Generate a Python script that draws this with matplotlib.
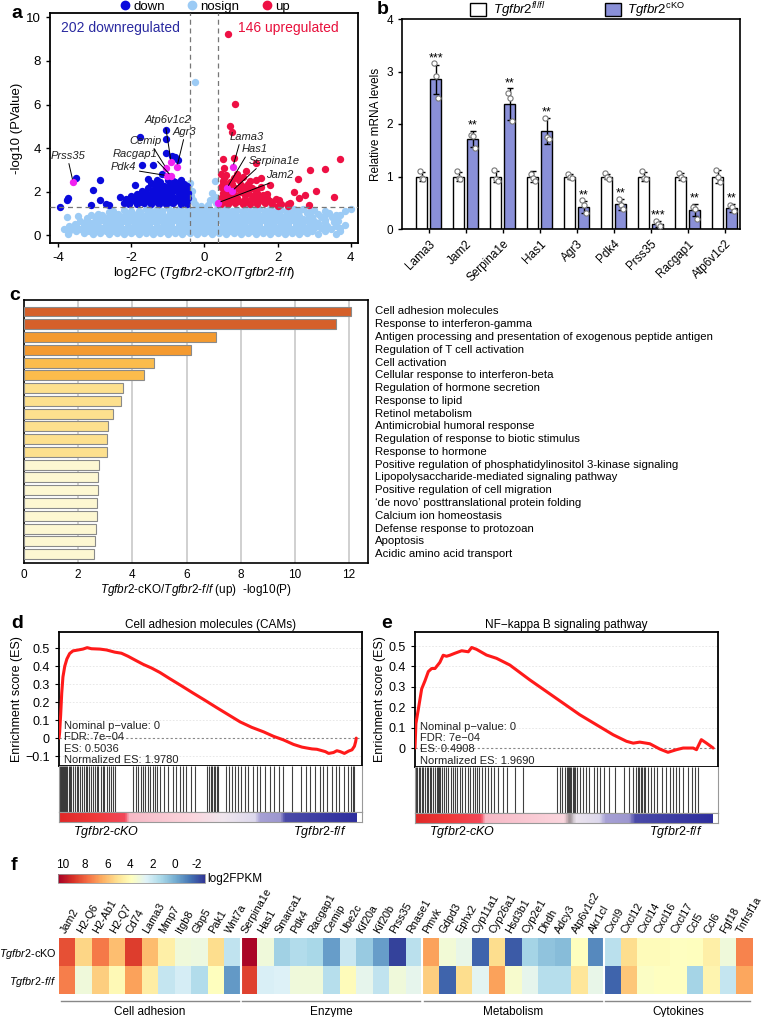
import numpy as np
import matplotlib
matplotlib.use('Agg')
import matplotlib.pyplot as plt
from matplotlib.patches import Patch
from matplotlib.lines import Line2D
from matplotlib.colors import LinearSegmentedColormap
from matplotlib.transforms import blended_transform_factory

plt.rcParams['font.family'] = ['Liberation Sans', 'DejaVu Sans']
plt.rcParams['mathtext.fontset'] = 'custom'
plt.rcParams['mathtext.rm'] = 'Liberation Sans'
plt.rcParams['mathtext.it'] = 'Liberation Sans:italic'
plt.rcParams['mathtext.bf'] = 'Liberation Sans:bold'
plt.rcParams['axes.unicode_minus'] = False

# ---------------- DATA ----------------
# Panel a: volcano (log2FC, -log10 P)
ns_pts = [
    (-3.72,0.05),(-3.7,0.18),(-3.3,0.1),(-3.05,0.06),(-2.85,0.12),(-2.6,0.04),(-2.4,0.1),(-2.2,0.06),(-2.0,0.12),
    (-1.8,0.05),(-1.6,0.1),(-1.4,0.04),(-1.2,0.12),(-1.0,0.06),(-0.8,0.1),(-0.6,0.04),(-0.4,0.12),(-0.2,0.06),
    (0.0,0.1),(0.2,0.05),(0.4,0.12),(0.6,0.06),(0.8,0.1),(1.0,0.04),(1.2,0.12),(1.4,0.06),(1.6,0.1),(1.8,0.05),
    (2.0,0.12),(2.2,0.06),(2.4,0.1),(2.6,0.04),(2.8,0.1),(3.1,0.06),(3.6,0.08),(3.72,0.2),
    (-3.5,0.2),(-3.15,0.22),(-2.95,0.18),(-2.7,0.22),(-2.5,0.18),(-2.3,0.22),(-2.1,0.18),(-1.9,0.22),(-1.7,0.18),
    (-1.5,0.22),(-1.3,0.18),(-1.1,0.22),(-0.9,0.18),(-0.7,0.22),(-0.5,0.18),(-0.3,0.22),(-0.1,0.18),(0.1,0.22),
    (0.3,0.18),(0.5,0.22),(0.7,0.18),(0.9,0.22),(1.1,0.18),(1.3,0.22),(1.5,0.18),(1.7,0.22),(1.9,0.18),(2.1,0.22),
    (2.3,0.18),(2.5,0.22),(2.7,0.18),(2.95,0.22),(3.3,0.18),
    (-3.85,0.3),(-3.6,0.35),(-3.4,0.28),(-3.2,0.33),(-3.0,0.27),(-2.8,0.34),(-2.6,0.3),(-2.4,0.36),(-2.2,0.28),
    (-2.0,0.33),(-1.8,0.3),(-1.6,0.36),(-1.4,0.28),(-1.2,0.32),(-1.0,0.35),(-0.8,0.29),(-0.6,0.34),(-0.4,0.3),
    (-0.2,0.35),(0.0,0.28),(0.2,0.33),(0.4,0.3),(0.6,0.36),(0.8,0.29),(1.0,0.33),(1.2,0.28),(1.4,0.35),(1.6,0.3),
    (1.8,0.34),(2.0,0.28),(2.2,0.33),(2.4,0.3),(2.6,0.35),(2.8,0.28),(3.0,0.32),(3.2,0.36),(3.45,0.3),(3.7,0.35),
    (-3.7,0.43),(-3.5,0.45),(-3.3,0.41),(-3.1,0.45),(-2.9,0.42),(-2.7,0.46),(-2.5,0.41),(-2.3,0.45),(-2.1,0.42),
    (-1.9,0.46),(-1.7,0.41),(-1.5,0.45),(-1.3,0.42),(-1.1,0.46),(-0.9,0.41),(-0.7,0.45),(-0.5,0.42),(-0.3,0.46),
    (-0.1,0.41),(0.1,0.45),(0.3,0.42),(0.5,0.46),(0.7,0.41),(0.9,0.45),(1.1,0.42),(1.3,0.46),(1.5,0.41),(1.7,0.45),
    (1.9,0.42),(2.1,0.46),(2.3,0.41),(2.5,0.45),(2.7,0.42),(2.9,0.46),(3.1,0.41),(3.35,0.45),(3.6,0.42),(3.85,0.46),
    (-3.55,0.52),(-3.3,0.58),(-3.1,0.55),(-2.9,0.6),(-2.7,0.52),(-2.5,0.57),(-2.3,0.55),(-2.1,0.6),(-1.9,0.53),
    (-1.7,0.57),(-1.5,0.55),(-1.3,0.6),(-1.1,0.52),(-0.9,0.58),(-0.7,0.55),(-0.5,0.6),(-0.3,0.53),(-0.1,0.57),
    (0.1,0.55),(0.3,0.6),(0.5,0.52),(0.7,0.57),(0.9,0.55),(1.1,0.6),(1.3,0.53),(1.5,0.58),(1.7,0.55),(1.9,0.6),
    (2.1,0.52),(2.3,0.57),(2.5,0.55),(2.7,0.6),(2.9,0.53),(3.1,0.57),(3.3,0.55),(3.55,0.6),
    (-3.4,0.68),(-3.2,0.7),(-3.0,0.66),(-2.8,0.7),(-2.6,0.67),(-2.4,0.71),(-2.2,0.66),(-2.0,0.7),(-1.8,0.67),
    (-1.6,0.71),(-1.4,0.66),(-1.2,0.7),(-1.0,0.67),(-0.8,0.71),(-0.6,0.66),(-0.4,0.7),(-0.2,0.67),(0.0,0.71),
    (0.2,0.66),(0.4,0.7),(0.6,0.67),(0.8,0.71),(1.0,0.66),(1.2,0.7),(1.4,0.67),(1.6,0.71),(1.8,0.66),(2.0,0.7),
    (2.2,0.67),(2.4,0.71),(2.6,0.66),(2.8,0.7),(3.0,0.67),(3.3,0.71),(3.65,0.68),
    (-3.75,0.85),(-3.45,0.9),(-3.2,0.78),(-2.95,0.82),(-2.7,0.76),(-2.5,0.84),(-2.3,0.78),(-2.1,0.82),(-1.9,0.77),
    (-1.7,0.83),(-1.5,0.79),(-1.3,0.84),(-1.1,0.77),(-0.9,0.82),(-0.7,0.78),(-0.5,0.84),(-0.3,0.79),(-0.1,0.83),
    (0.1,0.78),(0.3,0.84),(0.5,0.77),(0.7,0.82),(0.9,0.79),(1.1,0.83),(1.3,0.77),(1.5,0.84),(1.7,0.79),(1.9,0.82),
    (2.1,0.78),(2.3,0.84),(2.5,0.8),(2.7,0.76),(2.95,0.82),(3.2,0.86),(3.5,0.84),(3.85,1.1),
    (-3.1,0.92),(-2.8,0.94),(-2.6,0.9),(-2.4,0.94),(-2.2,0.91),(-2.0,0.95),(-1.8,0.9),(-1.6,0.94),(-1.4,0.91),
    (-1.2,0.95),(-1.0,0.9),(-0.8,0.94),(-0.6,0.91),(-0.4,0.95),(-0.2,0.9),(0.0,0.94),(0.2,0.91),(0.4,0.95),
    (0.6,0.9),(0.8,0.94),(1.0,0.91),(1.2,0.95),(1.4,0.9),(1.6,0.94),(1.8,0.91),(2.0,0.95),(2.2,0.9),(2.4,0.94),
    (2.6,0.91),(2.85,0.95),(3.3,0.92),(3.6,0.94),
    (-2.9,1.0),(-2.6,1.05),(-2.35,0.98),(-2.15,1.04),(-1.95,1.0),(-1.75,1.06),(-1.55,0.99),(-1.35,1.04),(-1.15,1.0),
    (-0.95,1.05),(-0.75,0.98),(-0.55,1.04),(-0.35,1.0),(-0.15,1.06),(0.05,0.99),(0.25,1.04),(0.45,1.0),(0.65,1.05),
    (0.85,0.98),(1.05,1.04),(1.25,1.0),(1.45,1.06),(1.65,0.99),(1.85,1.04),(2.05,1.0),(2.3,1.05),(2.55,0.98),
    (2.8,1.03),(3.1,1.0),(3.4,1.02),(3.7,0.95),
    (-2.5,1.12),(-2.0,1.14),(-1.8,1.1),(-1.45,1.13),(-1.15,1.11),(-0.85,1.14),(-0.6,1.1),(-0.3,1.13),(-0.05,1.11),
    (0.2,1.14),(0.5,1.1),(0.75,1.13),(1.05,1.11),(1.35,1.14),(1.65,1.1),(1.95,1.13),(2.25,1.11),(2.6,1.14),
    (2.9,1.1),(3.3,1.12),
    (-2.2,1.18),(-1.6,1.22),(-1.3,1.2),(-1.0,1.24),(-0.7,1.19),(-0.45,1.23),(-0.2,1.2),(0.1,1.25),(0.35,1.2),
    (0.6,1.22),(0.9,1.18),(1.2,1.24),(1.5,1.2),(1.8,1.22),(2.1,1.18),(2.45,1.22),(2.7,1.2),(3.0,1.18),(4.0,1.2),
    (-0.38,2.42),(-0.42,2.3),(-0.33,2.05),(-0.36,1.8),(-0.3,1.6),(-0.25,1.45),(0.3,2.5),(0.22,1.95),(0.28,1.75),
    (0.15,1.6),(0.33,1.5),(0.1,1.4),(-0.1,1.35),(-0.25,7.02),
]
down_pts = [
    (-2.05,1.45),(-1.85,1.42),(-1.65,1.47),(-1.45,1.43),(-1.25,1.46),(-1.05,1.42),(-0.85,1.47),(-0.65,1.44),(-0.48,1.45),
    (-2.1,1.55),(-1.9,1.57),(-1.7,1.54),(-1.5,1.57),(-1.3,1.55),(-1.1,1.58),(-0.9,1.54),(-0.7,1.57),(-0.5,1.55),
    (-2.15,1.65),(-1.95,1.68),(-1.75,1.63),(-1.55,1.67),(-1.35,1.64),(-1.15,1.68),(-0.95,1.63),(-0.75,1.67),(-0.55,1.65),(-0.45,1.7),
    (-2.0,1.8),(-1.8,1.82),(-1.65,1.78),(-1.45,1.81),(-1.25,1.79),(-1.05,1.82),(-0.85,1.78),(-0.65,1.81),(-0.5,1.8),
    (-1.85,1.9),(-1.6,1.93),(-1.45,1.88),(-1.3,1.92),(-1.1,1.89),(-0.9,1.94),(-0.7,1.88),(-0.55,1.92),(-0.45,1.95),
    (-1.7,2.05),(-1.4,2.07),(-1.2,2.03),(-1.0,2.06),(-0.85,2.04),(-0.7,2.07),(-0.6,2.03),(-0.47,2.05),
    (-1.55,2.15),(-1.25,2.18),(-1.05,2.13),(-0.95,2.2),(-0.8,2.14),(-0.65,2.18),(-0.5,2.15),
    (-1.35,2.3),(-1.1,2.28),(-0.9,2.32),(-0.75,2.29),(-0.6,2.31),(-0.47,2.28),
    (-1.45,2.4),(-1.2,2.43),(-0.95,2.38),(-0.8,2.45),(-0.7,2.4),(-0.55,2.35),
    (-1.0,2.52),(-0.85,2.5),(-0.65,2.53),
    (-1.05,4.85),(-1.05,4.4),(-1.75,4.5),(-1.05,3.8),(-0.88,3.62),(-0.8,3.58),(-0.72,3.45),(-1.4,3.25),(-1.7,3.25),
    (-1.15,2.8),(-1.3,2.55),(-3.5,2.62),(-2.85,2.52),(-3.05,2.08),(-1.9,2.3),(-3.73,1.7),(-3.75,1.6),(-2.85,1.6),
    (-2.7,1.45),(-2.6,1.38),(-3.1,1.38),(-3.95,1.3),(-2.3,1.78),(-2.2,1.5),(-1.55,2.6),
]
up_pts = [
    (0.45,1.45),(0.65,1.42),(0.85,1.47),(1.05,1.43),(1.25,1.46),(1.45,1.42),(1.65,1.47),(1.85,1.44),(2.1,1.45),(2.3,1.42),
    (0.55,1.58),(0.75,1.57),(0.95,1.59),(1.15,1.56),(1.4,1.59),(1.6,1.57),(1.8,1.58),
    (0.45,1.7),(0.7,1.68),(0.9,1.72),(1.1,1.67),(1.3,1.71),(1.5,1.68),(1.7,1.72),(1.95,1.68),
    (0.6,1.85),(0.85,1.84),(1.1,1.86),(1.35,1.83),(1.6,1.86),
    (0.5,1.95),(0.75,1.92),(1.0,1.97),(1.2,1.93),(1.45,1.96),(1.7,1.92),
    (0.55,2.1),(0.7,2.08),(0.95,2.11),(1.2,2.09),(1.4,2.1),
    (0.45,2.2),(0.6,2.23),(0.85,2.18),(1.05,2.22),(1.3,2.19),(1.55,2.22),
    (0.5,2.35),(0.75,2.36),(1.0,2.33),(1.2,2.36),
    (0.5,2.5),(0.7,2.47),(0.95,2.52),(1.25,2.48),(1.4,2.52),
    (0.55,2.65),(0.8,2.64),(1.05,2.66),
    (0.45,2.8),(0.6,2.78),(0.9,2.82),
    (0.65,9.25),(0.85,6.02),(0.7,5.0),(0.75,4.75),(0.5,3.5),(0.8,3.55),(1.4,3.3),(0.55,3.1),(1.15,2.95),(1.55,2.65),
    (1.8,2.3),(2.05,1.6),(2.35,1.5),(2.45,2.0),(2.55,2.6),(2.6,1.7),(2.75,1.85),(2.9,3.0),(3.3,3.05),(3.05,2.02),
    (3.55,1.75),(3.7,3.52),(2.3,1.35),(2.0,1.35),(2.85,1.4),
]
# labelled genes: name, point (log2FC, -log10P), text position
hl_genes = ['Prss35', 'Pdk4', 'Racgap1', 'Cemip', 'Atp6v1c2', 'Agr3', 'Lama3', 'Has1', 'Serpina1e', 'Jam2']
hl_fc    = [-3.59, -1.02, -0.91, -1.05, -0.91, -0.75, 0.78, 0.62, 0.76, 0.38]
hl_p     = [2.46, 2.74, 2.73, 3.10, 3.38, 3.15, 3.15, 2.18, 2.04, 1.50]
hl_tx    = [-3.72, -2.2, -1.9, -1.6, -1.0, -0.55, 1.16, 1.38, 1.92, 2.05]
hl_ty    = [3.65, 3.15, 3.75, 4.34, 5.27, 4.75, 4.52, 3.95, 3.42, 2.75]
hl_rel   = [(0.5, 0), (1, 0.1), (0.95, 0), (0.7, 0), (0.45, 0), (0.5, 0), (0.3, 0), (0.2, 0), (0.2, 0), (0.4, 0)]
fc_cut, p_cut = 0.38, 1.3

# Panel b: qPCR
b_genes = ['Lama3', 'Jam2', 'Serpina1e', 'Has1', 'Agr3', 'Pdk4', 'Prss35', 'Racgap1', 'Atp6v1c2']
wt_mean = [1.0, 1.0, 1.0, 1.0, 1.0, 1.0, 1.0, 1.0, 1.0]
wt_err  = [0.08, 0.08, 0.1, 0.1, 0.05, 0.05, 0.08, 0.06, 0.12]
ko_mean = [2.85, 1.72, 2.38, 1.86, 0.42, 0.47, 0.10, 0.36, 0.40]
ko_err  = [0.28, 0.15, 0.30, 0.25, 0.12, 0.10, 0.06, 0.12, 0.08]
wt_pts = [(1.1, 0.97, 0.95), (1.1, 0.97, 0.95), (1.13, 0.95, 0.92), (1.05, 0.98, 0.92), (1.05, 1.0, 0.97),
          (1.06, 1.0, 0.96), (1.1, 0.97, 0.96), (1.06, 1.0, 0.95), (1.12, 1.0, 0.9)]
ko_pts = [(3.16, 2.92, 2.49), (1.8, 1.77, 1.55), (2.6, 2.5, 2.05), (2.12, 1.75, 1.72), (0.55, 0.45, 0.3),
          (0.58, 0.45, 0.38), (0.15, 0.1, 0.05), (0.42, 0.38, 0.2), (0.45, 0.42, 0.35)]
stars = ['***', '**', '**', '**', '**', '**', '***', '**', '**']

# Panel c: enrichment
c_terms = ['Cell adhesion molecules', 'Response to interferon-gamma',
           'Antigen processing and presentation of exogenous peptide antigen',
           'Regulation of T cell activation', 'Cell activation', 'Cellular response to interferon-beta',
           'Regulation of hormone secretion', 'Response to lipid', 'Retinol metabolism',
           'Antimicrobial humoral response', 'Regulation of response to biotic stimulus', 'Response to hormone',
           'Positive regulation of phosphatidylinositol 3-kinase signaling',
           'Lipopolysaccharide-mediated signaling pathway', 'Positive regulation of cell migration',
           "\u2018de novo\u2019 posttranslational protein folding", 'Calcium ion homeostasis',
           'Defense response to protozoan', 'Apoptosis', 'Acidic amino acid transport']
c_vals = [12.09, 11.53, 7.10, 6.16, 4.80, 4.43, 3.65, 3.59, 3.30, 3.11, 3.07, 3.05,
          2.78, 2.74, 2.73, 2.71, 2.68, 2.67, 2.63, 2.58]
c_cols = ['#d5602a'] * 2 + ['#f49a30'] * 2 + ['#fbbc4c'] * 2 + ['#fde08e'] * 6 + ['#fdf7d2'] * 8

# Panel d: GSEA CAMs
d_x  = [0.0, 0.002, 0.0055, 0.009, 0.013, 0.019, 0.026, 0.035, 0.046, 0.063, 0.079, 0.093, 0.107, 0.135,
        0.157, 0.184, 0.206, 0.228, 0.25, 0.278, 0.305, 0.333, 0.366, 0.405, 0.443, 0.482, 0.52, 0.559,
        0.598, 0.636, 0.675, 0.708, 0.741, 0.774, 0.802, 0.818, 0.835, 0.851, 0.879, 0.89, 0.906, 0.917,
        0.928, 0.942, 0.956, 0.967, 0.975, 0.979, 0.981]
d_es = [0.0, 0.03, 0.13, 0.25, 0.34, 0.40, 0.44, 0.47, 0.485, 0.49, 0.495, 0.503, 0.497, 0.495,
        0.49, 0.478, 0.472, 0.455, 0.435, 0.41, 0.39, 0.365, 0.33, 0.29, 0.25, 0.21, 0.17, 0.13,
        0.09, 0.06, 0.035, 0.01, -0.01, -0.035, -0.05, -0.055, -0.06, -0.062, -0.075, -0.085, -0.08, -0.07,
        -0.075, -0.085, -0.072, -0.065, -0.045, -0.02, 0.0]
d_hits = [0.002, 0.006, 0.01, 0.013, 0.016, 0.02, 0.024, 0.028, 0.032, 0.036, 0.04, 0.046, 0.052, 0.058,
          0.063, 0.07, 0.075, 0.082, 0.088, 0.094, 0.1, 0.105, 0.112, 0.118, 0.125, 0.13, 0.137, 0.145,
          0.15, 0.158, 0.165, 0.172, 0.178, 0.185, 0.245, 0.255, 0.262, 0.27, 0.278, 0.285, 0.293, 0.3,
          0.31, 0.318, 0.325, 0.333, 0.345, 0.36, 0.375, 0.385, 0.4, 0.41, 0.42, 0.435, 0.45, 0.49, 0.495,
          0.5, 0.505, 0.51, 0.515, 0.52, 0.525, 0.55, 0.56, 0.57, 0.58, 0.59, 0.6, 0.615, 0.625, 0.64,
          0.655, 0.665, 0.68, 0.695, 0.71, 0.725, 0.74, 0.77, 0.8, 0.815, 0.83, 0.845, 0.86, 0.87, 0.885,
          0.9, 0.915, 0.925, 0.94, 0.955, 0.965, 0.97, 0.975]
d_stats = ['Nominal p\u2212value: 0', 'FDR: 7e\u221204', 'ES: 0.5036', 'Normalized ES: 1.9780']

# Panel e: GSEA NF-kB
e_x  = [0.0, 0.003, 0.011, 0.022, 0.033, 0.044, 0.055, 0.066, 0.082, 0.093, 0.104, 0.115, 0.132, 0.154,
        0.176, 0.187, 0.203, 0.236, 0.269, 0.313, 0.379, 0.434, 0.489, 0.544, 0.599, 0.654, 0.698, 0.72,
        0.742, 0.775, 0.808, 0.835, 0.863, 0.885, 0.918, 0.929, 0.945, 0.962, 0.984]
e_es = [0.0, 0.12, 0.19, 0.29, 0.33, 0.375, 0.39, 0.39, 0.42, 0.455, 0.45, 0.455, 0.465, 0.477,
        0.472, 0.493, 0.484, 0.456, 0.44, 0.407, 0.334, 0.277, 0.22, 0.163, 0.114, 0.065, 0.033, 0.024,
        0.029, 0.021, -0.005, -0.021, -0.008, 0.0, 0.0, -0.008, 0.041, 0.024, 0.0]
e_hits = [0.003, 0.008, 0.013, 0.018, 0.023, 0.028, 0.033, 0.038, 0.043, 0.048, 0.053, 0.058, 0.065, 0.072,
          0.076, 0.08, 0.084, 0.088, 0.095, 0.103, 0.11, 0.118, 0.125, 0.133, 0.14, 0.148, 0.155, 0.165,
          0.175, 0.183, 0.19, 0.198, 0.205, 0.212, 0.22, 0.23, 0.24, 0.25, 0.262, 0.275, 0.29, 0.305, 0.33,
          0.355, 0.47, 0.478, 0.486, 0.494, 0.5, 0.504, 0.508, 0.512, 0.516, 0.52, 0.524, 0.528, 0.536,
          0.545, 0.555, 0.565, 0.575, 0.59, 0.6, 0.612, 0.625, 0.64, 0.66, 0.69, 0.705, 0.72, 0.73, 0.735,
          0.74, 0.745, 0.75, 0.755, 0.76, 0.77, 0.78, 0.79, 0.8, 0.815, 0.83, 0.84, 0.85, 0.86, 0.87,
          0.885, 0.9, 0.915, 0.925, 0.935]
e_stats = ['Nominal p\u2212value: 0', 'FDR: 7e\u221204', 'ES: 0.4908', 'Normalized ES: 1.9690']

# Panel f: heatmap (log2FPKM)
f_genes = ['Jam2', 'H2-Q6', 'H2-Ab1', 'H2-Q7', 'Cd74', 'Lama3', 'Mmp7', 'Itgb8', 'Gbp5', 'Pak1', 'Wnt7a',
           'Serpina1e', 'Has1', 'Smarca1', 'Pdk4', 'Racgap1', 'Cemip', 'Ube2c', 'Kif20a', 'Kif20b', 'Prss35', 'Rnase1',
           'Pmvk', 'Gdpd3', 'Ephx2', 'Cyp11a1', 'Cyp26a1', 'Hsd3b1', 'Cyp2e1', 'Dhdh', 'Adcy3', 'Atp6v1c2', 'Akr1cl',
           'Cxcl9', 'Cxcl12', 'Cxcl14', 'Cxcl16', 'Cxcl17', 'Ccl5', 'Ccl6', 'Fgf18', 'Tnfrsf1a']
f_cko = [8.4, 5.4, 7.5, 6.0, 8.8, 6.1, 4.5, 3.2, 3.1, 5.2, 1.8,
         10.2, 3.2, 1.0, 1.4, 1.2, -0.4, 2.0, 0.8, -0.4, -2.4, 1.6,
         6.7, 3.3, 2.9, -1.7, 5.2, -1.9, 1.1, 0.6, 0.4, 3.9, -0.9,
         1.6, 5.2, 4.0, 4.0, 3.8, 3.9, 4.5, 3.2, 7.3]
f_ff  = [7.4, 3.2, 5.6, 4.1, 6.7, 4.6, 1.9, 2.3, 1.4, 3.9, -0.5,
         8.7, 2.4, 2.5, 3.2, 3.2, 1.5, 4.0, 2.8, 1.8, 3.2, 2.8,
         5.6, -1.7, 5.2, 2.7, 6.7, 3.5, 2.8, 1.5, 1.5, 4.9, 2.9,
         -1.7, 5.8, 3.7, 3.8, 3.8, 1.1, 4.3, 1.9, 6.6]
f_groups = ['Cell adhesion', 'Enzyme', 'Metabolism', 'Cytokines']
f_group_sizes = [11, 11, 11, 9]

# ---------------- FIGURE ----------------
W, H = 762, 1017
fig = plt.figure(figsize=(W / 100, H / 100), dpi=100)


def R(l, t, r, b):
    return [l / W, 1 - b / H, (r - l) / W, (b - t) / H]


def ptext(x, y, s):
    fig.text(x / W, 1 - y / H, s, fontsize=14, fontweight='bold', ha='center', va='center')


# ---- Panel a ----
axA = fig.add_axes(R(50, 13, 358, 243))
ns = np.array(ns_pts); dn = np.array(down_pts); up = np.array(up_pts)
ms = 28
axA.scatter(ns[:, 0], ns[:, 1], s=ms, color='#9ccbf5', linewidths=0, zorder=1)
axA.scatter(dn[:, 0], dn[:, 1], s=ms, color='#0a0adc', linewidths=0, zorder=2)
axA.scatter(up[:, 0], up[:, 1], s=ms, color='#ee1044', linewidths=0, zorder=2)
axA.scatter(hl_fc, hl_p, s=ms, color='#f022f0', linewidths=0, zorder=4)
for xv in (-fc_cut, fc_cut):
    axA.axvline(xv, ls=(0, (4, 3)), color='#777777', lw=0.9, zorder=3)
axA.axhline(p_cut, ls=(0, (4, 3)), color='#777777', lw=0.9, zorder=3)
for g, px, py, tx, ty, rp in zip(hl_genes, hl_fc, hl_p, hl_tx, hl_ty, hl_rel):
    axA.annotate(g, xy=(px, py), xytext=(tx, ty), fontsize=8, style='italic', ha='center', va='center',
                 color='#222222', zorder=5,
                 arrowprops=dict(arrowstyle='-', color='black', lw=0.7, shrinkA=0, shrinkB=2, relpos=rp))
axA.text(-2.3, 9.5, '202 downregulated', color='#2a2aa0', fontsize=10, ha='center', va='center')
axA.text(2.3, 9.5, '146 upregulated', color='#e8103c', fontsize=10, ha='center', va='center')
axA.set_xlim(-4.22, 4.2)
axA.set_ylim(-0.35, 10.2)
axA.set_xticks([-4, -2, 0, 2, 4])
axA.set_yticks([0, 2, 4, 6, 8, 10])
axA.tick_params(labelsize=9.5, length=3, width=1)
for sp in axA.spines.values():
    sp.set_linewidth(1.3)
axA.set_ylabel('-log10 (PValue)', fontsize=9.5, labelpad=2)
axA.set_xlabel(r'log2FC ($\mathit{Tgfbr2}$-cKO/$\mathit{Tgfbr2}$-$\mathit{f/f}$)', fontsize=9.5, labelpad=1)
hA = [Line2D([], [], ls='', marker='o', ms=6, color=c) for c in ('#0a0adc', '#9ccbf5', '#ee1044')]
axA.legend(hA, ['down', 'nosign', 'up'], ncol=3, loc='center', bbox_to_anchor=(0.5, 1 + (13 - 7) / 230),
           frameon=False, fontsize=9.5, handletextpad=0.1, columnspacing=1.6, borderpad=0, handlelength=1.0)
ptext(17, 13, 'a')

# ---- Panel b ----
axB = fig.add_axes(R(402, 19, 740, 229))
xb = np.arange(len(b_genes))
bw, off = 0.29, 0.19
axB.bar(xb - off, wt_mean, bw, color='white', edgecolor='black', lw=1.0, zorder=2)
axB.bar(xb + off, ko_mean, bw, color='#8a90d8', edgecolor='black', lw=1.0, zorder=2)
axB.errorbar(xb - off, wt_mean, yerr=wt_err, fmt='none', ecolor='black', elinewidth=1, capsize=2.5, zorder=3)
axB.errorbar(xb + off, ko_mean, yerr=ko_err, fmt='none', ecolor='black', elinewidth=1, capsize=2.5, zorder=3)
jit = [-0.05, 0.0, 0.05]
for i in range(len(b_genes)):
    axB.scatter(xb[i] - off + np.array(jit), wt_pts[i], s=14, facecolor='white', edgecolor='#777777',
                linewidths=0.8, zorder=4)
    axB.scatter(xb[i] + off + np.array(jit), ko_pts[i], s=14, facecolor='white', edgecolor='#777777',
                linewidths=0.8, zorder=4)
    top = max(ko_mean[i] + ko_err[i], max(ko_pts[i]))
    axB.text(xb[i] + off, top - 0.02, stars[i], ha='center', va='bottom', fontsize=9)
axB.set_xlim(-0.72, 8.41)
axB.set_ylim(0, 4)
axB.set_yticks([0, 1, 2, 3, 4])
axB.set_xticks(xb)
axB.set_xticklabels(b_genes, rotation=45, ha='right', rotation_mode='anchor', fontsize=8.5)
axB.tick_params(labelsize=8.5, length=3, width=1)
for sp in axB.spines.values():
    sp.set_linewidth(1.2)
axB.set_ylabel('Relative mRNA levels', fontsize=8.5, labelpad=3)
hB = [Patch(facecolor='white', edgecolor='black', lw=1), Patch(facecolor='#8a90d8', edgecolor='black', lw=1)]
axB.legend(hB, [r'$\mathit{Tgfbr2}^{\mathit{fl/fl}}$', r'$\mathit{Tgfbr2}^{\mathrm{cKO}}$'], ncol=2,
           loc='center', bbox_to_anchor=(0.52, 1 + (19 - 10) / 210), frameon=False, fontsize=9.5,
           handlelength=1.2, handleheight=1.2, columnspacing=4.5, handletextpad=0.5, borderpad=0)
ptext(383, 9, 'b')

# ---- Panel c ----
axC = fig.add_axes(R(24, 300, 368, 563))
yc = np.arange(len(c_terms))
axC.barh(yc, c_vals, height=0.78, color=c_cols, edgecolor='#8a8a8a', lw=0.8, zorder=3)
axC.set_ylim(len(c_terms) - 0.3, -0.9)
axC.set_xlim(0, 12.7)
axC.set_xticks([0, 2, 4, 6, 8, 10, 12])
for gx in [2, 4, 6, 8, 10, 12]:
    axC.axvline(gx, color='#c8c8c8', lw=1.2, zorder=1)
axC.set_yticks([])
axC.tick_params(axis='x', labelsize=8.5, length=0, pad=4)
for sp in axC.spines.values():
    sp.set_linewidth(1.2)
axC.set_xlabel(r'$\mathit{Tgfbr2}$-cKO/$\mathit{Tgfbr2}$-$\mathit{f/f}$ (up)  -log10(P)', fontsize=8.5, labelpad=1)
trC = blended_transform_factory(axC.transAxes, axC.transData)
for i, t in enumerate(c_terms):
    axC.text(1.02, i, t, transform=trC, fontsize=8.2, ha='left', va='center', clip_on=False)
ptext(15, 296, 'c')


# ---- Panels d / e ----
def gsea(box, xs, es, hits, title, stats, ylim, yticks, strip_nodes, lab_y):
    l, t, r, b = box
    ax = fig.add_axes(R(l, t, r, b))
    axh = fig.add_axes(R(l, b, r, b + 46))
    axs = fig.add_axes(R(l, b + 46, r, b + 56))
    ax.plot(xs, es, color='#ff1a1a', lw=2.2, zorder=3, solid_capstyle='round')
    ax.axhline(0, color='#888888', lw=0.8, ls=(0, (2, 2)), zorder=1)
    for yv in yticks:
        if yv != 0:
            ax.axhline(yv, color='#e4e4e4', lw=0.6, ls=(0, (2, 2)), zorder=0)
    ax.set_xlim(0, 1)
    ax.set_ylim(*ylim)
    ax.set_yticks(yticks)
    ax.set_yticklabels([('%g' % v).replace('-', '\u2212') for v in yticks])
    ax.set_xticks([])
    ax.tick_params(labelsize=9, length=3)
    for sp in ax.spines.values():
        sp.set_linewidth(1.3)
    ax.set_title(title, fontsize=8.5, pad=3)
    ax.set_ylabel('Enrichment score (ES)', fontsize=9, labelpad=2)
    for k, s in enumerate(stats):
        ax.text(0.017, [0.30, 0.215, 0.13, 0.045][k], s, transform=ax.transAxes, fontsize=8, ha='left',
                va='center', color='#222222', zorder=2)
    axh.vlines(hits, 0, 1, color='black', lw=0.8, alpha=0.75)
    axh.set_xlim(0, 1); axh.set_ylim(0, 1)
    axh.set_xticks([]); axh.set_yticks([])
    for sp in axh.spines.values():
        sp.set_color('#999999'); sp.set_linewidth(0.8)
    axh.spines['top'].set_visible(False)
    cm = LinearSegmentedColormap.from_list('rank', strip_nodes)
    grad = np.linspace(0, 1, 400)[None, :]
    axs.imshow(grad, cmap=cm, aspect='auto', extent=(0, 0.982, 0, 1))
    axs.set_xlim(0, 1); axs.set_ylim(0, 1)
    axs.set_xticks([]); axs.set_yticks([])
    for sp in axs.spines.values():
        sp.set_color('#999999'); sp.set_linewidth(0.8)
    fig.text((l + 14) / W, 1 - lab_y / H, r'$\mathit{Tgfbr2}$-$\mathit{cKO}$', fontsize=9, ha='left', va='center')
    fig.text((r - 15) / W, 1 - lab_y / H, r'$\mathit{Tgfbr2}$-$\mathit{f/f}$', fontsize=9, ha='right', va='center')
    return ax


strip_d = [(0.0, '#e02828'), (0.12, '#f03a3a'), (0.22, '#f2485a'), (0.235, '#f7b9c6'), (0.45, '#fbd6de'),
           (0.55, '#f0e6ee'), (0.66, '#dcd8ec'), (0.675, '#a7a1d5'), (0.745, '#9d97cf'), (0.76, '#4a4aa8'),
           (1.0, '#2e2e9e')]
strip_e = [(0.0, '#e02828'), (0.12, '#f03a3a'), (0.22, '#f2485a'), (0.235, '#f7b9c6'), (0.5, '#fbd6de'),
           (0.52, '#9a8e92'), (0.54, '#ece4ee'), (0.62, '#dcd8ec'), (0.64, '#a7a1d5'), (0.72, '#9d97cf'),
           (0.74, '#4a4aa8'), (1.0, '#2e2e9e')]
gsea((59, 632, 362, 766), d_x, d_es, d_hits, 'Cell adhesion molecules (CAMs)', d_stats,
     (-0.155, 0.59), [-0.1, 0, 0.1, 0.2, 0.3, 0.4, 0.5], strip_d, 832)
gsea((415, 632, 718, 767), e_x, e_es, e_hits, 'NF\u2212kappa B signaling pathway', e_stats,
     (-0.093, 0.569), [0, 0.1, 0.2, 0.3, 0.4, 0.5], strip_e, 832)
ptext(17, 624, 'd')
ptext(387, 624, 'e')

# ---- Panel f ----
axF = fig.add_axes(R(59, 938, 752, 994))
im = axF.imshow(np.array([f_cko, f_ff]), cmap='RdYlBu_r', vmin=-2.7, vmax=10.4, aspect='auto',
                interpolation='nearest')
bounds = np.cumsum(f_group_sizes)
for bd in bounds[:-1]:
    axF.axvline(bd - 0.5, color='white', lw=1.5)
axF.set_xticks(np.arange(len(f_genes)))
axF.xaxis.tick_top()
axF.set_xticklabels(f_genes, rotation=60, ha='left', rotation_mode='anchor', fontsize=7.8)
axF.set_yticks([0, 1])
axF.set_yticklabels([r'$\mathit{Tgfbr2}$-cKO', r'$\mathit{Tgfbr2}$-$\mathit{f/f}$'], fontsize=7.8)
axF.tick_params(length=0, pad=2)
for sp in axF.spines.values():
    sp.set_visible(False)
trF = blended_transform_factory(axF.transData, axF.transAxes)
start = 0
for g, n in zip(f_groups, f_group_sizes):
    axF.plot([start - 0.5 + 0.1, start + n - 0.5 - 0.1], [-0.12, -0.12], transform=trF, color='#888888',
             lw=1.0, clip_on=False)
    axF.text(start + n / 2 - 0.5, -0.32, g, transform=trF, ha='center', va='center', fontsize=8.5)
    start += n
axCB = fig.add_axes(R(58, 874, 205, 883))
cb = fig.colorbar(im, cax=axCB, orientation='horizontal')
axCB.set_xlim(10.4, -2.7)
axCB.xaxis.set_ticks_position('top')
cb.set_ticks([10, 8, 6, 4, 2, 0, -2])
axCB.tick_params(length=0, labelsize=8.5, pad=2)
cb.outline.set_edgecolor('#999999')
cb.outline.set_linewidth(0.6)
fig.text(207 / W, 1 - 879 / H, 'log2FPKM', fontsize=8.5, ha='left', va='center')
ptext(14, 865, 'f')

fig.savefig('out.png', dpi=100)
